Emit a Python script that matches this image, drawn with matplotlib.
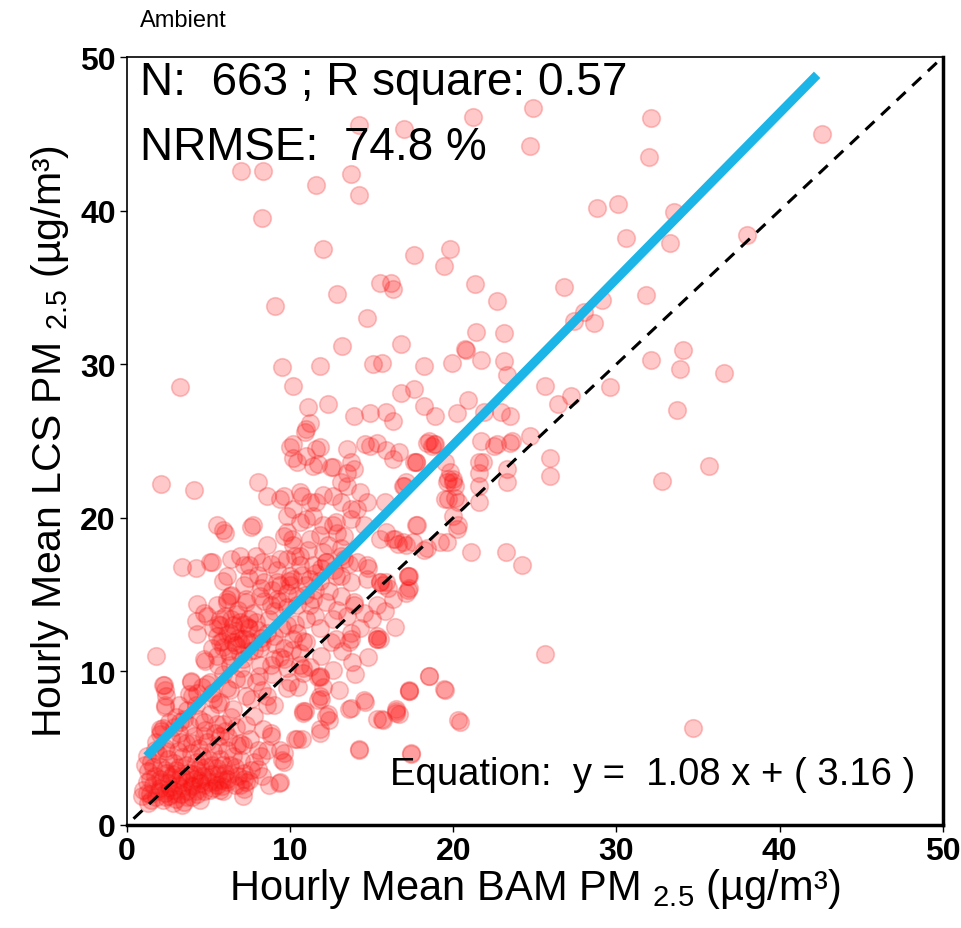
import numpy as np
import matplotlib
matplotlib.use("Agg")
import matplotlib.pyplot as plt

plt.rcParams['font.family'] = ['Liberation Sans', 'DejaVu Sans']

# Datos (BAM x, LCS y) por zonas
pts_altos = [
    (7.0, 42.6), (8.35, 42.6), (11.6, 41.7), (13.7, 42.4), (14.2, 41.0), (8.25, 39.5),
    (12.0, 37.5), (17.6, 37.1), (19.8, 37.5), (19.4, 36.4), (15.5, 35.3), (16.2, 35.3),
    (16.3, 34.9), (12.9, 34.6), (21.3, 35.2), (9.1, 33.8), (22.7, 34.1), (14.7, 33.0),
    (13.2, 31.2), (16.8, 31.3), (21.4, 32.1), (23.1, 32.0), (20.7, 31.0), (14.2, 45.6),
    (17.0, 45.3), (21.2, 46.1), (24.9, 46.7), (24.7, 44.2), (32.1, 46.0), (32.0, 43.5),
    (42.6, 45.0), (28.8, 40.2), (30.1, 40.4), (30.6, 38.2), (33.5, 39.9), (33.3, 37.9),
    (38.0, 38.4), (26.8, 35.0), (29.1, 34.2), (31.8, 34.5), (28.0, 33.4), (27.4, 32.8),
    (28.6, 32.7), (20.8, 30.9), (32.1, 30.3), (34.1, 30.9),
]

pts_medios = [
    (15.1, 30.0), (15.6, 30.1), (18.2, 29.9), (19.9, 30.1), (21.7, 30.3), (23.1, 30.2),
    (23.3, 29.3), (9.5, 29.8), (11.8, 29.9), (3.25, 28.5), (10.2, 28.6), (16.8, 28.1),
    (17.6, 28.4), (12.3, 27.4), (11.1, 27.2), (11.2, 26.2), (13.9, 26.6), (14.9, 26.8),
    (15.9, 26.9), (16.3, 26.3), (18.2, 27.3), (18.9, 26.6), (20.2, 26.8), (20.9, 27.7),
    (21.9, 26.9), (22.9, 26.9), (10.9, 25.6), (10.2, 24.8), (10.2, 23.9), (11.0, 24.0),
    (11.8, 24.6), (11.7, 23.5), (12.5, 23.3), (13.5, 22.9), (13.7, 23.6), (14.6, 24.8),
    (15.3, 24.9), (15.9, 24.4), (16.3, 23.8), (17.6, 23.6), (18.4, 24.9), (18.9, 24.8),
    (19.5, 23.6), (19.8, 23.0), (20.0, 22.3), (20.1, 21.3), (21.6, 23.6), (21.6, 22.9),
    (22.7, 24.8), (23.5, 24.9), (23.3, 23.2), (2.1, 22.2), (4.1, 21.8), (8.05, 22.3),
    (8.6, 21.4), (9.6, 21.4), (10.7, 21.4), (10.2, 20.6), (11.6, 21.0), (12.6, 21.4),
    (13.1, 22.3), (13.9, 23.2), (13.7, 20.6), (14.3, 21.7), (14.7, 21.0), (15.8, 21.0),
    (17.1, 22.3), (19.6, 22.3), (19.7, 21.2), (20.0, 20.1), (20.2, 19.3), (21.6, 22.1),
    (21.6, 21.0), (23.3, 22.3), (36.6, 29.4), (33.9, 29.7), (25.6, 28.6), (29.6, 28.5),
    (27.2, 27.9), (26.4, 27.4), (33.7, 27.0), (23.5, 26.6), (35.7, 23.4), (32.8, 22.4),
    (25.9, 23.9), (25.9, 22.7), (24.7, 25.3), (23.6, 25.0), (22.5, 24.7), (21.7, 25.0),
    (21.8, 23.6), (20.0, 22.5), (18.5, 25.0), (18.7, 24.7), (11.0, 25.8), (10.0, 24.6),
    (11.6, 24.5), (13.5, 24.5), (14.9, 24.7), (16.7, 24.3), (17.7, 23.6), (18.8, 24.8),
    (10.4, 23.6), (11.4, 23.4), (12.6, 23.3), (13.5, 22.1), (9.4, 21.2), (10.6, 21.7),
    (11.2, 21.0), (12.0, 21.5), (13.1, 21.0), (14.1, 20.6), (16.9, 22.1), (9.8, 20.1),
    (10.6, 19.7), (11.4, 20.1), (12.6, 19.5), (13.7, 19.9), (14.5, 19.5),
]

pts_centro = [
    (5.5, 19.5), (5.9, 19.2), (7.6, 19.4), (8.6, 18.2), (9.8, 19.1), (11.0, 19.9),
    (12.0, 19.5), (12.8, 19.7), (13.3, 18.8), (15.9, 19.1), (16.6, 18.3), (17.5, 18.4),
    (19.2, 18.4), (19.7, 22.5), (20.1, 22.1), (19.5, 21.2), (20.3, 21.0), (20.3, 19.5),
    (19.6, 18.4), (18.2, 17.9), (17.8, 19.5), (17.0, 22.1), (17.7, 23.6), (21.1, 17.8),
    (23.2, 17.8), (24.2, 16.9), (16.4, 18.6), (17.1, 18.2), (17.2, 16.2), (17.2, 15.3),
    (15.7, 15.6), (15.5, 12.1), (6.0, 19.0), (7.7, 19.5), (9.6, 18.8), (10.2, 18.2),
    (11.2, 18.6), (12.0, 17.8), (13.1, 18.0), (15.5, 18.6), (16.3, 18.6), (16.9, 18.4),
    (17.7, 19.5), (18.4, 18.0), (5.2, 17.1), (6.1, 16.2), (6.9, 17.5), (7.5, 16.9),
    (8.3, 17.1), (9.4, 17.3), (10.0, 16.2), (10.6, 16.9), (11.2, 16.0), (12.2, 17.1),
    (13.1, 16.2), (14.7, 16.9), (15.9, 15.8), (17.3, 16.2), (17.1, 15.1), (6.1, 14.7),
    (7.3, 14.7), (8.2, 15.4), (8.8, 14.3), (9.8, 15.1), (10.4, 14.3), (11.4, 14.7),
    (4.9, 13.6), (5.7, 13.4), (6.5, 13.0), (7.5, 13.4), (8.6, 12.5), (5.5, 12.3),
    (7.1, 12.1), (6.7, 11.7), (9.8, 13.0), (11.0, 13.4), (10.2, 12.1), (13.7, 12.1),
    (15.3, 12.3), (13.9, 14.3), (15.5, 15.8),
    (3.35, 16.8), (4.2, 16.7), (5.1, 17.1), (6.4, 17.3), (7.2, 16.9), (7.9, 17.5),
    (8.8, 17.0), (9.8, 17.3), (10.6, 17.5), (11.4, 16.9), (12.2, 17.1), (13.1, 17.5),
    (14.1, 17.1), (14.8, 16.7), (5.9, 15.9), (7.5, 16.1), (8.4, 15.8), (9.4, 15.6),
    (10.2, 16.0), (11.0, 15.6), (11.8, 15.9), (12.8, 16.2), (13.7, 15.8), (14.7, 16.0),
    (15.5, 15.8), (17.2, 16.2), (17.3, 15.4), (16.0, 15.4), (4.3, 14.4), (4.7, 13.8),
    (4.2, 13.3), (4.3, 12.4), (6.1, 14.5), (6.3, 14.9), (7.3, 14.5), (8.15, 14.9),
    (9.2, 14.7), (10.4, 14.9), (11.2, 14.3), (12.2, 14.5), (13.1, 14.9), (13.9, 14.5),
    (14.5, 13.8), (15.3, 14.3), (16.3, 14.7), (5.7, 13.0), (6.3, 12.5), (6.9, 13.2),
    (7.5, 12.8), (5.7, 11.9), (6.5, 11.9), (7.3, 12.1), (8.15, 11.5), (9.0, 12.3),
    (9.6, 11.5), (10.4, 12.5), (11.0, 11.9), (11.8, 12.8), (12.6, 13.4), (13.5, 13.6),
    (12.8, 12.1), (13.7, 12.5), (15.3, 12.1),
    (5.2, 11.5), (5.8, 12.0), (6.2, 11.3), (6.6, 12.6), (7.0, 11.8), (7.4, 12.9),
    (7.8, 11.4), (8.2, 12.2), (8.7, 13.4), (9.1, 11.8), (9.5, 12.8), (6.0, 13.6),
    (6.8, 14.0), (7.7, 13.8), (8.4, 14.6), (9.0, 13.9), (9.8, 14.2), (10.3, 13.1),
    (10.8, 12.0), (5.5, 14.3), (6.4, 15.0), (7.2, 15.6), (8.0, 16.3), (9.2, 15.8),
    (10.0, 15.6), (10.9, 15.0), (11.6, 16.4), (12.4, 15.2), (12.9, 14.0), (11.5, 13.6),
    (5.3, 12.8), (5.9, 11.6), (6.1, 12.4), (6.4, 13.4), (6.8, 12.2), (7.2, 13.1),
    (7.6, 11.9), (8.0, 12.7), (6.3, 11.0), (6.9, 11.1), (7.5, 11.3), (5.6, 13.1),
    (6.7, 13.7), (7.9, 13.2), (8.3, 11.9),
    (9.4, 14.6), (9.9, 15.9), (10.3, 17.5), (10.7, 16.3), (11.1, 17.9), (11.5, 15.3),
    (11.9, 16.7), (12.3, 18.2), (12.7, 16.6), (13.3, 17.3), (9.2, 16.6), (10.1, 18.6),
    (11.8, 18.9), (12.9, 19.0), (13.6, 17.0), (8.9, 15.3),
]

pts_bajos = [
    (25.6, 11.1), (18.5, 9.7), (17.3, 8.8), (19.5, 8.8), (16.5, 7.4), (15.7, 6.8),
    (20.4, 6.7), (34.7, 6.3), (17.4, 4.7),
    (1.8, 11.0), (4.7, 10.8), (5.5, 11.0), (6.3, 10.4), (7.1, 10.8), (8.15, 10.4),
    (9.0, 10.8), (9.8, 10.2), (10.6, 10.4), (11.8, 9.7), (2.2, 9.1), (2.4, 8.4),
    (2.3, 7.8), (3.9, 9.3), (4.3, 8.6), (5.1, 9.3), (5.3, 8.2), (6.1, 8.9), (6.7, 9.5),
    (7.3, 8.4), (7.9, 9.3), (8.6, 8.4), (9.0, 7.8), (9.8, 8.9), (10.8, 9.9), (11.8, 8.4),
    (10.8, 7.3), (12.2, 7.1), (13.7, 7.6), (14.6, 8.0), (16.5, 7.3), (17.3, 8.7),
    (15.3, 6.9), (14.2, 4.9), (2.0, 6.25), (3.25, 6.7), (4.7, 6.7), (5.7, 5.8),
    (7.1, 5.2), (8.35, 6.25), (8.8, 5.8), (9.4, 4.9), (10.4, 5.6), (9.6, 4.1),
    (9.4, 2.8), (7.3, 2.8), (7.1, 1.9), (5.7, 2.3),
    (15.3, 12.1), (13.6, 11.9), (12.5, 11.9), (10.8, 10.2), (11.8, 9.6), (11.9, 8.2),
    (10.9, 7.4), (12.3, 7.2), (12.4, 6.8), (11.8, 6.0), (10.7, 5.6), (13.6, 7.55),
    (14.5, 8.1), (14.2, 4.95), (15.6, 6.9), (16.5, 7.55), (16.7, 7.2), (17.3, 8.7),
    (18.5, 9.7), (19.4, 8.85), (20.3, 6.8), (17.4, 4.6),
    (4.8, 10.7), (5.6, 10.4), (2.25, 9.1), (2.35, 8.8), (3.9, 9.4), (3.8, 8.5),
    (2.35, 7.7), (2.1, 6.1), (4.9, 9.2), (5.7, 8.0), (6.5, 7.55), (7.15, 9.5),
    (8.1, 9.7), (8.8, 10.4), (9.6, 10.8), (10.6, 11.2), (10.0, 9.3), (8.6, 7.8),
    (7.8, 7.1), (8.8, 6.0), (8.6, 4.9), (9.6, 4.7), (9.5, 4.2), (10.8, 7.4),
    (11.7, 9.6), (11.7, 8.1), (11.85, 6.25), (10.3, 5.6), (9.3, 2.7), (8.0, 3.65),
    (7.15, 2.35), (7.15, 3.0), (6.1, 3.0), (5.5, 2.6), (5.9, 3.9), (6.75, 5.2),
    (7.55, 5.6), (8.2, 4.5),
    (8.9, 9.8), (9.4, 10.9), (10.1, 11.4), (10.5, 9.0), (11.2, 10.3), (11.9, 11.0),
    (12.6, 10.1), (13.2, 11.3), (13.8, 10.6), (12.0, 9.0), (13.0, 8.8), (14.0, 9.8),
    (14.8, 10.9), (14.3, 12.8), (15.0, 13.4), (15.8, 13.9), (16.4, 12.9),
    (3.2, 7.8), (4.0, 8.4), (4.6, 9.0), (5.2, 8.6), (5.9, 9.8), (6.3, 8.8),
    (7.0, 10.2), (7.6, 8.2), (8.3, 8.8),
]

pts_nucleo = [
    (1.0, 2.3), (1.2, 2.8), (1.3, 3.5), (1.4, 2.0), (1.5, 4.1), (1.6, 2.6), (1.7, 3.2),
    (1.8, 1.8), (1.9, 4.6), (2.0, 2.4), (2.0, 3.0), (2.1, 3.8), (2.2, 1.6), (2.3, 5.0),
    (2.3, 2.1), (2.4, 3.4), (2.5, 4.3), (2.5, 2.7), (2.6, 1.9), (2.7, 5.6), (2.7, 3.1),
    (2.8, 2.3), (2.9, 4.0), (3.0, 1.7), (3.0, 3.6), (3.1, 4.8), (3.1, 2.6), (3.2, 6.0),
    (3.3, 2.0), (3.3, 3.2), (3.4, 4.4), (3.5, 1.5), (3.5, 2.8), (3.6, 5.3), (3.6, 3.9),
    (3.7, 2.2), (3.8, 6.5), (3.8, 3.4), (3.9, 4.7), (4.0, 2.5), (4.0, 1.8), (4.1, 3.0),
    (4.1, 5.8), (4.2, 4.1), (4.3, 2.0), (4.3, 3.6), (4.4, 6.9), (4.4, 5.0), (4.5, 2.7),
    (4.6, 3.2), (4.6, 4.5), (4.7, 2.2), (4.8, 6.2), (4.8, 3.8), (4.9, 5.4), (5.0, 2.8),
    (5.0, 4.2), (5.1, 7.2), (5.2, 3.3), (5.3, 4.8), (5.3, 2.4), (5.4, 6.0), (5.5, 3.7),
    (5.6, 5.2), (5.7, 4.3), (5.8, 2.9), (5.9, 6.6), (6.0, 3.4), (6.1, 4.9), (6.2, 5.7),
    (6.3, 3.9), (6.4, 7.0), (6.5, 4.5), (6.6, 2.6), (1.5, 1.6), (2.8, 1.4), (3.4, 1.3),
    (4.5, 1.6), (1.1, 3.9), (2.2, 6.3), (3.0, 7.0), (3.7, 7.5), (4.2, 7.8), (5.6, 7.9),
    (1.8, 5.4), (2.6, 6.7), (0.9, 1.9), (1.3, 1.4), (5.9, 2.2), (6.8, 3.2), (7.0, 4.2),
    (6.9, 5.3), (7.3, 6.5), (7.6, 3.6), (8.0, 4.9),
    (1.2, 2.1), (1.4, 3.0), (1.6, 3.8), (1.9, 2.2), (2.1, 2.8), (2.3, 3.6), (2.4, 1.8),
    (2.6, 2.4), (2.8, 3.3), (2.9, 2.0), (3.1, 2.9), (3.2, 3.8), (3.4, 2.4), (3.6, 3.0),
    (3.7, 1.8), (3.9, 2.6), (4.1, 3.3), (4.2, 2.2), (4.4, 2.9), (4.5, 3.8), (4.7, 2.6),
    (4.9, 3.1), (5.1, 2.3), (5.2, 3.9), (5.4, 2.8), (5.6, 3.3), (5.8, 2.5), (6.1, 2.8),
    (6.3, 3.3), (6.6, 3.8), (6.9, 2.6), (7.2, 3.4), (7.5, 2.9), (7.8, 4.1), (8.3, 3.2),
    (8.7, 2.6), (1.7, 4.9), (2.4, 4.8), (3.3, 5.4), (4.0, 5.3), (4.7, 5.8), (5.5, 6.6),
    (6.0, 6.1), (6.7, 6.4), (2.0, 5.9), (2.9, 6.4), (1.2, 4.5), (3.5, 6.9),
]

pendiente = 1.08
intercepto = 3.16
rango_ajuste = [1.2, 42.3]

puntos = np.array(pts_altos + pts_medios + pts_centro + pts_bajos + pts_nucleo)
bam = puntos[:, 0]
lcs = puntos[:, 1]

fig = plt.figure(figsize=(9.62, 9.29), dpi=100)
ax = fig.add_axes([0.132, 0.111, 0.848, 0.8265])

ax.scatter(bam, lcs, s=160, marker='o', facecolor=(1, 0, 0, 0.21),
           edgecolor=(0.95, 0.2, 0.2, 0.28), linewidth=1.2, zorder=2)

# Linea 1:1
ax.plot([0.4, 49.8], [0.4, 49.8], color='black', linestyle=(0, (4, 3)), linewidth=2.2, zorder=3)

# Recta de ajuste
xa = np.array(rango_ajuste)
ax.plot(xa, pendiente * xa + intercepto, color='#1BB5E8', linewidth=6.5,
        solid_capstyle='butt', zorder=4)

ax.set_xlim(0, 50)
ax.set_ylim(0, 50)
ax.set_xticks([0, 10, 20, 30, 40, 50])
ax.set_yticks([0, 10, 20, 30, 40, 50])
ax.tick_params(direction='out', length=5, width=1, labelsize=23, pad=3)
for lbl in ax.get_xticklabels() + ax.get_yticklabels():
    lbl.set_fontweight('bold')

for lado in ['left', 'top']:
    ax.spines[lado].set_linewidth(1.2)
for lado in ['right', 'bottom']:
    ax.spines[lado].set_linewidth(2.5)

ax.set_xlabel(r'Hourly Mean BAM PM $_{\mathregular{2.5}}$ (µg/m³)', fontsize=30, labelpad=0)
ax.set_ylabel(r'Hourly Mean LCS PM $_{\mathregular{2.5}}$ (µg/m³)', fontsize=29.5, labelpad=7)

ax.text(0.016, 0.952, 'N:  663 ; R square: 0.57', transform=ax.transAxes,
        fontsize=33, va='baseline', ha='left', zorder=5)
ax.text(0.016, 0.867, 'NRMSE:  74.8 %', transform=ax.transAxes,
        fontsize=33, va='baseline', ha='left', zorder=5)
ax.text(0.966, 0.053, 'Equation:  y =  1.08 x + ( 3.16 )', transform=ax.transAxes,
        fontsize=27.5, va='baseline', ha='right', zorder=5)

fig.text(0.145, 0.966, 'Ambient', fontsize=17, ha='left', va='bottom')

fig.savefig('out.png', dpi=100, facecolor='white')
